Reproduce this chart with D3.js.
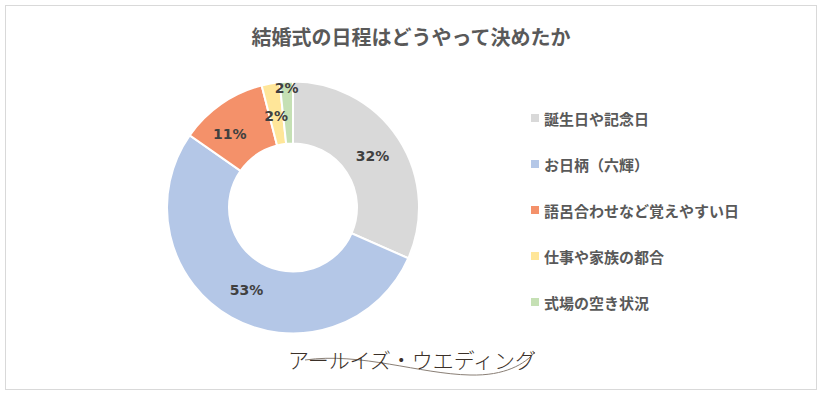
<!DOCTYPE html>
<html>
<head>
<meta charset="utf-8">
<script src="https://cdn.jsdelivr.net/npm/d3@7"></script>
<style>
  html, body { margin: 0; padding: 0; background: #fff; }
  svg { display: block; font-family: "Noto Sans CJK JP", "Noto Sans", sans-serif; }
</style>
</head>
<body>
<div id="chart"></div>
<script>
// data
const categories = ['誕生日や記念日', 'お日柄（六輝）', '語呂合わせなど覚えやすい日', '仕事や家族の都合', '式場の空き状況'];
const values = [31.6, 53.1, 11.3, 2.3, 1.7];
const colors = ['#d9d9d9', '#b4c7e7', '#f4916a', '#ffe699', '#c5e0b4'];
const title = '結婚式の日程はどうやって決めたか';
const logoText = 'アールイズ・ウエディング';

const width = 824, height = 397;
const cx = 293, cy = 207.5;
const outerR = 126, innerR = 64;

const svg = d3.select('#chart')
  .append('svg')
  .attr('width', width)
  .attr('height', height);

// chart frame
svg.append('rect')
  .attr('x', 5.5).attr('y', 5.5)
  .attr('width', 811).attr('height', 384)
  .attr('fill', '#fff')
  .attr('stroke', '#d9d9d9')
  .attr('stroke-width', 1);

svg.append('text')
  .attr('x', 411).attr('y', 45)
  .attr('text-anchor', 'middle')
  .attr('font-size', 20)
  .attr('font-weight', 'bold')
  .attr('fill', '#595959')
  .text(title);

const pie = d3.pie().sort(null).value(d => d);
const arcs = pie(values);

const arc = d3.arc().innerRadius(innerR).outerRadius(outerR);

const g = svg.append('g').attr('transform', `translate(${cx},${cy})`);

g.selectAll('path')
  .data(arcs)
  .enter()
  .append('path')
  .attr('d', arc)
  .attr('fill', (d, i) => colors[i])
  .attr('stroke', '#fff')
  .attr('stroke-width', 2);

// data labels - the last one sits outside near the rim like in the reference
const labelR = i => i === 4 ? 120 : (i === 2 ? 97 : 95);
g.selectAll('text.lbl')
  .data(arcs)
  .enter()
  .append('text')
  .attr('class', 'lbl')
  .attr('transform', (d, i) => {
    const a = (d.startAngle + d.endAngle) / 2;
    let x = Math.sin(a) * labelR(i), y = -Math.cos(a) * labelR(i);
    if (i === 2) { x -= 8; y += 6; }
    if (i === 3) { y += 2; }
    return `translate(${x},${y})`;
  })
  .attr('text-anchor', 'middle')
  .attr('dominant-baseline', 'central')
  .attr('font-family', '"DejaVu Sans", sans-serif')
  .attr('font-size', 14)
  .attr('font-weight', 'bold')
  .attr('fill', '#404040')
  .text(d => Math.round(d.value) + '%');

// legend
const legend = svg.append('g').attr('transform', 'translate(531,118)');
const rows = legend.selectAll('g')
  .data(categories)
  .enter()
  .append('g')
  .attr('transform', (d, i) => `translate(0,${i * 46})`);

rows.append('rect')
  .attr('x', 0).attr('y', -4)
  .attr('width', 8).attr('height', 8)
  .attr('fill', (d, i) => colors[i]);

rows.append('text')
  .attr('x', 13).attr('y', 0)
  .attr('dominant-baseline', 'central')
  .attr('font-size', 15)
  .attr('font-weight', 'bold')
  .attr('fill', '#595959')
  .text(d => d);

// logo
const logo = svg.append('g');
const swoosh = d3.path();
swoosh.moveTo(305, 360);
swoosh.bezierCurveTo(360, 352, 420, 374, 470, 375);
swoosh.bezierCurveTo(505, 376, 525, 364, 535, 352);
logo.append('path')
  .attr('d', swoosh.toString())
  .attr('fill', 'none')
  .attr('stroke', '#8a7f76')
  .attr('stroke-width', 1);

logo.append('text')
  .attr('x', 412).attr('y', 368)
  .attr('text-anchor', 'middle')
  .attr('font-size', 21)
  .attr('font-weight', 300)
  .attr('fill', '#3b3028')
  .attr('textLength', 248)
  .text(logoText);
</script>
</body>
</html>
